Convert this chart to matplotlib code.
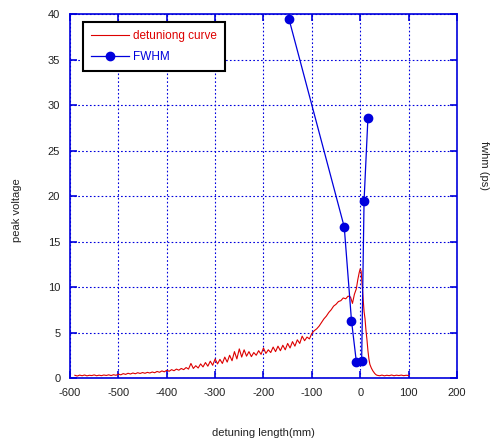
import matplotlib
matplotlib.use('Agg')
import matplotlib.pyplot as plt

# detuning curve
curve_x = [-590, -585, -580, -575, -570, -565, -560, -555, -550, -545,
           -540, -535, -530, -525, -520, -515, -510, -505, -500, -495,
           -490, -485, -480, -475, -470, -465, -460, -455, -450, -445,
           -440, -435, -430, -425, -420, -415, -410, -405, -400, -395,
           -390, -385, -380, -375, -370, -365, -360, -355, -350, -345,
           -340, -335, -330, -325, -320, -315, -310, -305, -300, -295,
           -290, -285, -280, -275, -270, -265, -260, -255, -250, -245,
           -240, -235, -230, -225, -220, -215, -210, -205, -200, -195,
           -190, -185, -180, -175, -170, -165, -160, -155, -150, -145,
           -140, -135, -130, -125, -120, -115, -110, -105, -100, -95,
           -90, -85, -80, -75, -70, -65, -60, -55, -50, -45,
           -40, -35, -30, -25, -20, -16, -12, -8, -5, -2,
           0, 2, 4, 6, 8, 10, 12, 14, 16, 18,
           20, 23, 26, 30, 33, 35, 40, 45, 50, 55,
           60, 65, 70, 75, 80, 85, 90, 95, 100]
curve_y = [0.30, 0.22, 0.32, 0.25, 0.33, 0.24, 0.30, 0.27, 0.34, 0.25,
           0.31, 0.26, 0.33, 0.28, 0.35, 0.27, 0.36, 0.30, 0.42, 0.35,
           0.48, 0.40, 0.52, 0.44, 0.55, 0.47, 0.58, 0.50, 0.60, 0.52,
           0.62, 0.55, 0.66, 0.58, 0.72, 0.63, 0.78, 0.68, 0.85, 0.74,
           0.92, 0.80, 0.98, 0.86, 1.05, 0.92, 1.15, 0.98, 1.60, 1.05,
           1.35, 1.10, 1.55, 1.22, 1.70, 1.30, 1.85, 1.40, 2.10, 1.55,
           2.05, 1.60, 2.30, 1.75, 2.50, 1.90, 2.90, 2.10, 3.20, 2.30,
           3.10, 2.40, 2.90, 2.35, 2.80, 2.50, 3.00, 2.60, 3.30, 2.70,
           3.10, 2.80, 3.40, 2.90, 3.50, 3.00, 3.60, 3.10, 3.80, 3.30,
           4.00, 3.50, 4.20, 3.80, 4.60, 4.10, 4.50, 4.30, 4.90, 5.20,
           5.40, 5.70, 6.10, 6.50, 6.80, 7.20, 7.50, 7.90, 8.10, 8.40,
           8.50, 8.80, 8.70, 9.00, 8.90, 8.20, 9.20, 9.80, 10.80, 11.60,
           12.00, 11.70, 10.20, 8.60, 7.30, 6.50, 5.20, 4.20, 3.00, 2.10,
           1.50, 1.10, 0.80, 0.50, 0.35, 0.30, 0.25, 0.32, 0.24, 0.30,
           0.26, 0.33, 0.25, 0.31, 0.27, 0.32, 0.26, 0.30, 0.28]

# FWHM points
fwhm_x = [-147, -33, -18, -8, 3, 8, 16]
fwhm_y = [39.4, 16.6, 6.3, 1.8, 1.9, 19.5, 28.6]

x_ticks = [-600, -500, -400, -300, -200, -100, 0, 100, 200]
y_ticks = [0, 5, 10, 15, 20, 25, 30, 35, 40]

RED = '#dd0000'
BLUE = '#0000dd'
TXT = '#222222'

plt.rcParams['font.family'] = ['Liberation Sans', 'DejaVu Sans']
plt.rcParams['axes.unicode_minus'] = False

fig = plt.figure(figsize=(4.91, 4.43), dpi=100)
ax = fig.add_axes([0.1426, 0.1467, 0.788, 0.8217])

ax.plot(curve_x, curve_y, color=RED, lw=0.8, label='detuniong curve')
ax.plot(fwhm_x, fwhm_y, color=BLUE, lw=0.9, marker='o', markersize=6,
        label='FWHM')

ax.set_xlim(-600, 200)
ax.set_ylim(0, 40)
ax.set_xticks(x_ticks)
ax.set_yticks(y_ticks)
ax.grid(True, color=BLUE, linestyle=(0, (1.5, 2)), lw=0.8)

for sp in ax.spines.values():
    sp.set_color(BLUE)
    sp.set_linewidth(1.2)
ax.tick_params(direction='in', length=5, color=BLUE, width=1.2,
               top=True, right=True, labelsize=8, labelcolor=TXT, pad=7)

ax.set_xlabel('detuning length(mm)', fontsize=8, color=TXT, labelpad=22)
fig.text(0.035, 0.526, 'peak voltage', rotation=90, fontsize=8,
         color=TXT, ha='center', va='center')
fig.text(0.985, 0.627, 'fwhm (ps)', rotation=270, fontsize=8,
         color=TXT, ha='center', va='center')

leg = ax.legend(loc='upper left', bbox_to_anchor=(0.034, 0.978),
                borderaxespad=0, fontsize=8.5, fancybox=False, framealpha=1,
                borderpad=0.65, labelspacing=0.8, handlelength=3.2,
                handletextpad=0.4)
leg.get_frame().set_edgecolor('black')
leg.get_frame().set_linewidth(1.5)
for txt, col in zip(leg.get_texts(), [RED, BLUE]):
    txt.set_color(col)

fig.savefig('out.png', dpi=100)
